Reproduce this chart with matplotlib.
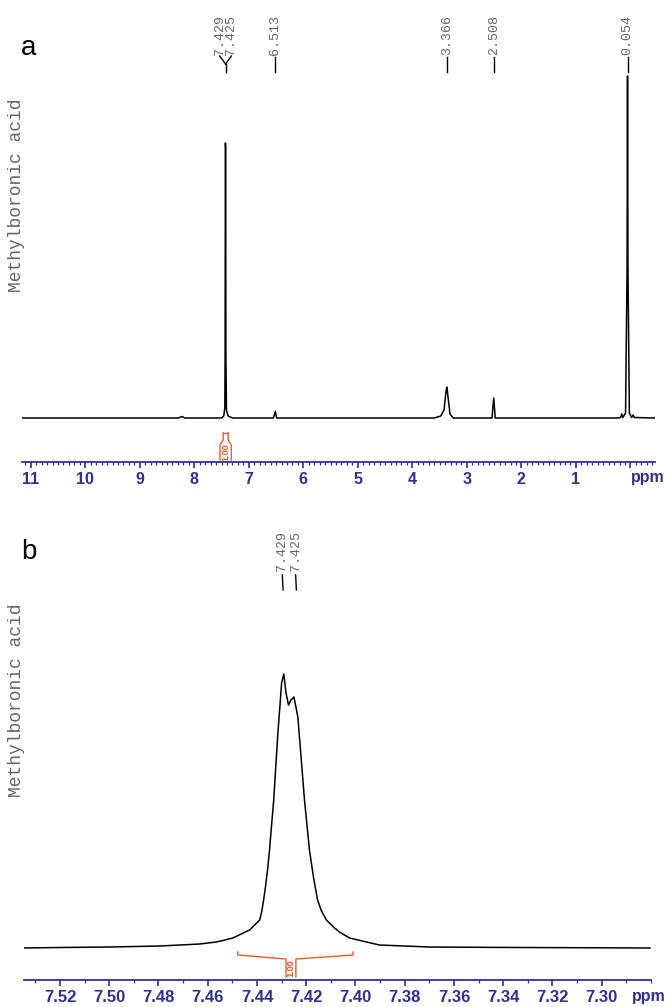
import numpy as np
import matplotlib.pyplot as plt

# ---- data ----
# panel a: full 1H spectrum (ppm, intensity above baseline)
ppm_a = [11.16, 8.30, 8.22, 8.18, 7.50, 7.46, 7.44, 7.435, 7.429, 7.425, 7.42, 7.41, 7.38, 7.30,
         6.55, 6.513, 6.49, 3.60, 3.48, 3.42, 3.38, 3.366, 3.34, 3.31, 3.25, 2.54, 2.508, 2.48,
         0.25, 0.18, 0.16, 0.14, 0.09, 0.062, 0.054, 0.046, 0.02, -0.02, -0.05, -0.07, -0.45]
int_a = [0, 0, 1.5, 0, 0, 2, 10, 60, 275, 270, 60, 8, 2, 0,
         0, 6.5, 0, 0, 2, 8, 28, 31, 18, 4, 0, 0, 20, 0,
         0, 0.5, 4, 0.5, 5, 150, 342, 150, 5, 0.5, 3, 0.5, 0]
peaks_a = [7.429, 7.425, 6.513, 3.366, 2.508, 0.054]
integral_a = (7.47, 7.38)
ticks_a = [11, 10, 9, 8, 7, 6, 5, 4, 3, 2, 1]

# panel b: zoom on the 7.43 ppm signal
ppm_b = [7.5346, 7.520, 7.4997, 7.4794, 7.4632, 7.4565, 7.4530, 7.4498, 7.4430, 7.4389,
         7.4381, 7.4373, 7.4365, 7.4357, 7.4349, 7.4341, 7.4332, 7.4322, 7.4315, 7.4305,
         7.4300, 7.4291, 7.4282, 7.4272, 7.4262, 7.4250, 7.4241, 7.4234, 7.4220, 7.4207,
         7.4195, 7.4187, 7.4170, 7.4154, 7.4138, 7.4118, 7.4085, 7.4065, 7.4024, 7.3990,
         7.3955, 7.3903, 7.3800, 7.3700, 7.3500, 7.3335, 7.3000, 7.2804]
int_b = [0, 0.5, 1, 2, 4, 6, 8, 10, 18, 28,
         36, 48, 62, 78, 98, 122, 148, 188, 215, 248,
         265, 274, 255, 243, 248, 251, 240, 231, 188, 148,
         118, 98, 70, 48, 37, 28, 20, 16, 10, 8,
         6, 3, 2, 1, 0.7, 0.5, 0.2, 0]
peaks_b = [7.429, 7.425]
integral_b = (7.4478, 7.4010)
ticks_b = [7.52, 7.50, 7.48, 7.46, 7.44, 7.42, 7.40, 7.38, 7.36, 7.34, 7.32, 7.30]
integral_value = "1.00"
sample = "Methylboronic acid"

blue = "#2E3192"
red = "#F15A29"
grey = "#666666"
W, H = 666, 1007

fig = plt.figure(figsize=(W / 100, H / 100), dpi=100)


def style_axis(ax, ticks, labels, minor, size):
    for s in ["top", "left", "right"]:
        ax.spines[s].set_visible(False)
    ax.spines["bottom"].set_color(blue)
    ax.spines["bottom"].set_linewidth(1.3)
    ax.set_yticks([])
    ax.set_xticks(ticks)
    ax.set_xticklabels(labels, fontsize=size, fontweight="bold", color=blue, family="Liberation Sans")
    ax.set_xticks(minor, minor=True)
    ax.tick_params(axis="x", which="major", length=4, width=1.2, color=blue, pad=3)
    ax.tick_params(axis="x", which="minor", length=2.2, width=0.9, color=blue)
    ax.patch.set_visible(False)


# ---------------- panel a ----------------
ax = fig.add_axes([22 / W, 1 - 462 / H, 633 / W, 462 / H])
ax.plot(ppm_a, int_a, color="black", lw=1.1)
ax.set_xlim(11.16, -0.45)
ax.set_ylim(-44, 418)
style_axis(ax, ticks_a + [0], [str(t) for t in ticks_a] + [""],
           np.arange(-0.4, 11.15, 0.1), 11.5)
ax.text(0.0, -0.0346, "ppm", transform=ax.get_xaxis_transform(), ha="left", va="center",
        fontsize=11.5, fontweight="bold", color=blue, family="Liberation Sans")

# peak labels
spread = 0.107
mid = (peaks_a[0] + peaks_a[1]) / 2
lab_x = [mid + spread, mid - spread] + peaks_a[2:]
for p, lx in zip(peaks_a, lab_x):
    ax.text(lx, 363, "%.3f" % p, rotation=90, ha="center", va="bottom", fontsize=9.5,
            color=grey, family="Liberation Mono", clip_on=False)
for lx in lab_x[:2]:
    ax.plot([lx, mid], [362, 354], color="black", lw=1, clip_on=False)
ax.plot([mid, mid], [354, 346], color="black", lw=1, clip_on=False)
for p in peaks_a[2:]:
    ax.plot([p, p], [361, 346], color="black", lw=1, clip_on=False)

# integral
c = (integral_a[0] + integral_a[1]) / 2
hw = (integral_a[0] - integral_a[1]) / 2
xs = [c + hw, c + hw, c + hw * 2.3, c + hw * 2.3]
ys = [-15, -22, -27, -42]
ax.plot(xs, ys, color=red, lw=1, clip_on=False)
ax.plot([2 * c - x for x in xs], ys, color=red, lw=1, clip_on=False)
ax.plot([c + hw, c - hw], [-15, -15], color=red, lw=1, clip_on=False)
ax.text(c, -34, integral_value, rotation=90, ha="center", va="center", fontsize=6.5,
        color=red, fontweight="bold", family="Liberation Sans")

fig.text(29 / W, 1 - 48 / H, "a", fontsize=20, ha="center", va="center", family="Liberation Sans")
fig.text(17 / W, 1 - 195 / H, sample, rotation=90, ha="center", va="center", fontsize=13,
         color=grey, family="Liberation Mono")

# ---------------- panel b ----------------
ax2 = fig.add_axes([24 / W, 1 - 980 / H, 627 / W, 480 / H])
ax2.plot(ppm_b, int_b, color="black", lw=1.1)
ax2.set_xlim(7.5346, 7.2804)
ax2.set_ylim(-32, 448)
style_axis(ax2, ticks_b, ["%.2f" % t for t in ticks_b], np.arange(7.28, 7.535, 0.01), 12)
ax2.text(7.2877, -0.0354, "ppm", transform=ax2.get_xaxis_transform(), ha="left", va="center",
         fontsize=11.5, fontweight="bold", color=blue, family="Liberation Sans")

mid_b = (peaks_b[0] + peaks_b[1]) / 2
for p, sgn in zip(peaks_b, [1, -1]):
    lx = mid_b + sgn * 0.0027
    ax2.text(lx, 377, "%.3f" % p, rotation=90, ha="center", va="bottom", fontsize=9.5,
             color=grey, family="Liberation Mono", clip_on=False)
    ax2.plot([lx, lx - 0.0003], [373, 358], color="black", lw=1, clip_on=False)

# integral bracket
l, r = integral_b
c2 = 7.4262
gap = 0.002
ax2.plot([l, l, c2 + gap, c2 + gap], [-4, -7, -11, -29], color=red, lw=1, clip_on=False)
ax2.plot([r, r, c2 - gap, c2 - gap], [-4, -7, -11, -29], color=red, lw=1, clip_on=False)
ax2.text(c2, -20, integral_value, rotation=90, ha="center", va="center", fontsize=6.5,
         color=red, fontweight="bold", family="Liberation Sans")

fig.text(29 / W, 1 - 552 / H, "b", fontsize=20, ha="center", va="center", family="Liberation Sans")
fig.text(17 / W, 1 - 700 / H, sample, rotation=90, ha="center", va="center", fontsize=13,
         color=grey, family="Liberation Mono")

fig.savefig("out.png", dpi=100)
